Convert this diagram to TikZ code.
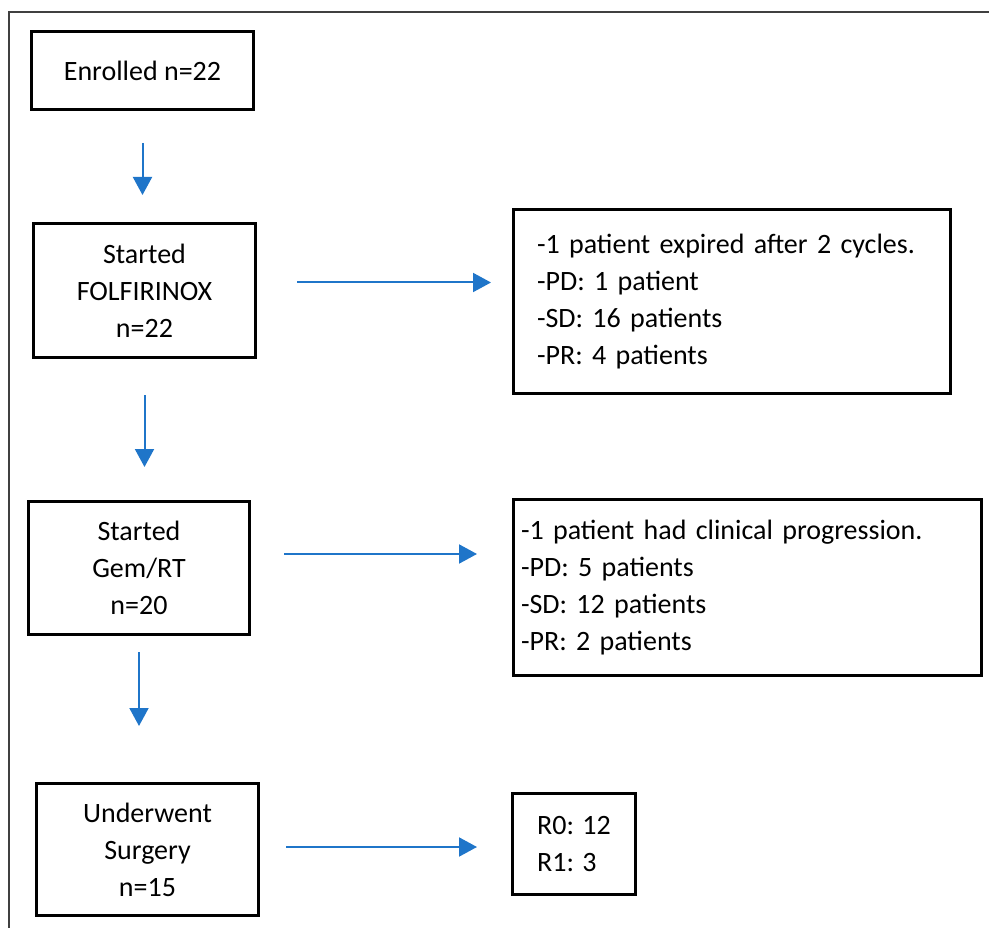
\documentclass[tikz,border=0pt]{standalone}
\usepackage{fontspec}
\setmainfont{Carlito}
\usetikzlibrary{arrows.meta}
\definecolor{flowblue}{HTML}{1F75C9}

\begin{document}
\begin{tikzpicture}[x=1pt,y=-1pt,
  box/.style={draw,line width=3pt,align=center,font=\fontsize{28}{37}\selectfont},
  notes/.style={box,align=left},
  flow/.style={flowblue,line width=2pt,-{Triangle[length=18pt,width=19pt]}}]
\useasboundingbox (0,0) rectangle (989,928);
\draw [black!75,line width=1.5pt] (989,12) -- (9,12) -- (9,928);
\node[box,minimum width=222pt,minimum height=78pt] (enrolled) at (142.5,70.5) {Enrolled n=22};
\node[box,minimum width=222pt,minimum height=134pt] (folfi) at (144.5,290.5) {Started\\FOLFIRINOX\\n=22};
\node[box,minimum width=221pt,minimum height=133pt] (gem) at (139,568) {Started\\Gem/RT\\n=20};
\node[box,minimum width=222pt,minimum height=132pt] (surgery) at (147.5,849.5) {Underwent\\Surgery\\n=15};
\node[notes,text width=390pt,inner xsep=23.5pt,minimum height=184pt] (res1) at (732,301.5) {-1 patient expired after 2 cycles.\\-PD: 1 patient\\-SD: 16 patients\\-PR: 4 patients};
\node[notes,text width=453pt,inner xsep=7.5pt,minimum height=176pt] (res2) at (747.5,587.5) {-1 patient had clinical progression.\\-PD: 5 patients\\-SD: 12 patients\\-PR: 2 patients};
\node[notes,minimum width=123pt,minimum height=101pt] (margin) at (574,844) {R0: 12\\R1: 3};
\draw [flow,shorten <=32pt,shorten >=27pt] (enrolled.south) -- (enrolled.south |- folfi.north);
\draw [flow,shorten <=36pt,shorten >=33pt] (folfi.south) -- (folfi.south |- gem.north);
\draw [flow,shorten <=16pt,shorten >=56pt] (gem.south) -- (gem.south |- surgery.north);
\draw [flow,shorten <=40pt,shorten >=21pt] ([yshift=8pt]folfi.east) -- ([yshift=8pt]folfi.east -| res1.west);
\draw [flow,shorten <=33pt,shorten >=35pt] ([yshift=14pt]gem.east) -- ([yshift=14pt]gem.east -| res2.west);
\draw [flow,shorten <=26pt,shorten >=34pt] ([yshift=2.5pt]surgery.east) -- ([yshift=2.5pt]surgery.east -| margin.west);
\end{tikzpicture}
\end{document}
